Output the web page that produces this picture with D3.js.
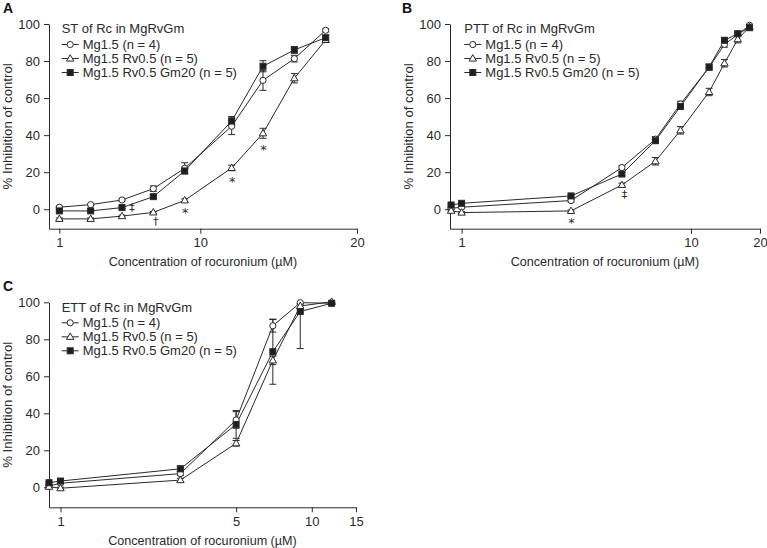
<!DOCTYPE html>
<html><head><meta charset="utf-8">
<script src="https://cdn.jsdelivr.net/npm/d3@7"></script>
<style>
body{margin:0;background:#fff;}
svg{display:block;font-family:"Liberation Sans",Arial,Helvetica,sans-serif;}
.ann{opacity:0.99;}
</style></head><body>
<svg id="chart" width="767" height="548"></svg>
<script>
// ---------- data ----------
const seriesNames = ["Mg1.5 (n = 4)", "Mg1.5 Rv0.5 (n = 5)", "Mg1.5 Rv0.5 Gm20 (n = 5)"];
const yTicks = [0, 20, 40, 60, 80, 100];
const xTicksA = [1, 10, 20];
const xTicksB = [1, 10, 20];
const xTicksC = [1, 5, 10, 15];
const xTitle = "Concentration of rocuronium (\u00b5M)";
const yTitle = "% Inhibition of control";

// Panel A: ST
const concA   = [1, 3, 5, 7, 9, 12, 14, 16, 18];
const aMg     = [1.1, 2.5, 5.0, 11.1, 22.1, 44.8, 69.6, 81.3, 96.6];
const aMgErr  = [0.5, 0.5, 0.5, 1.5, 3.0, 4.5, 5.4, 1.8, 0.8];
const aRv     = [-5.2, -5.2, -3.7, -1.7, 4.8, 22.3, 41.0, 70.7, 91.4];
const aRvErr  = [0.5, 0.5, 0.5, 0.5, 0.8, 1.5, 2.7, 2.5, 1.2];
const aGm     = [-0.9, -0.9, 0.9, 6.8, 20.7, 47.6, 77.2, 86.0, 92.6];
const aGmErr  = [0.5, 0.5, 0.5, 0.8, 1.5, 2.5, 3.0, 1.8, 1.2];

// Panel B: PTT
const concB   = [0.9, 1, 3, 5, 7, 9, 12, 14, 16, 18];
const bMg     = [0.5, 1.1, 4.7, 22.5, 37.8, 56.8, 76.6, 89.0, 94.3, 99.3];
const bMgErr  = [0.5, 0.5, 0.8, 1.0, 1.5, 1.5, 1.5, 1.5, 1.0, 0.8];
const bRv     = [-0.8, -1.8, -0.9, 13.1, 25.9, 42.6, 63.3, 78.8, 91.8, 98.5];
const bRvErr  = [0.5, 0.5, 0.5, 1.0, 2.0, 2.0, 2.0, 2.0, 2.0, 1.0];
const bGm     = [2.3, 3.2, 7.2, 19.0, 37.0, 55.5, 76.8, 91.2, 94.8, 98.0];
const bGmErr  = [0.5, 0.5, 0.8, 1.0, 1.5, 1.5, 1.5, 1.5, 1.0, 0.8];

// Panel C: ETT
const concC   = [0.9, 1, 3, 5, 7, 9, 12];
const cMg     = [0.7, 2.2, 7.4, 36.4, 87.3, 99.8, 99.5];
const cMgErr  = [0.5, 0.5, 1.0, 4.5, 3.4, 0.5, 0.5];
const cRv     = [0.3, -0.5, 3.9, 23.8, 68.6, 98.0, 100.3];
const cRvErr  = [0.5, 0.5, 1.0, 1.5, 2.3, 1.0, 0.5];
const cGm     = [2.5, 3.4, 10.0, 34.0, 73.3, 95.0, 99.5];
const cGmErr  = [0.5, 0.5, 1.5, 7.5, 17.6, 20.0, 0.5];

// significance marks: series index, point index, symbol, placement
const annA = [
  {s: 2, i: 2, t: "\u2021", pos: "right"},
  {s: 1, i: 3, t: "\u2020", pos: "below"},
  {s: 1, i: 4, t: "*", pos: "below"},
  {s: 1, i: 5, t: "*", pos: "below"},
  {s: 1, i: 6, t: "*", pos: "below"}
];
const annB = [
  {s: 1, i: 2, t: "*", pos: "below"},
  {s: 1, i: 3, t: "\u2021", pos: "below"}
];
const annC = [];

// ---------- drawing ----------
const svg = d3.select("#chart");
const ink = "#2a2a2a";
const FS = 13;

function marker(g, type, cx, cy) {
  if (type === 0) {
    g.append("circle").attr("cx", cx).attr("cy", cy).attr("r", 3.1)
      .attr("fill", "#fff").attr("stroke", ink).attr("stroke-width", 1);
  } else if (type === 1) {
    const s = 7.4, h = s * Math.sqrt(3) / 2;
    g.append("path")
      .attr("d", `M${cx},${cy - h * 0.6}L${cx + s / 2},${cy + h * 0.4}L${cx - s / 2},${cy + h * 0.4}Z`)
      .attr("fill", "#fff").attr("stroke", ink).attr("stroke-width", 1);
  } else {
    g.append("rect").attr("x", cx - 3).attr("y", cy - 3).attr("width", 6).attr("height", 6)
      .attr("fill", "#1e1e1e").attr("stroke", ink).attr("stroke-width", 1);
  }
}

function drawPanel(p) {
  const g = svg.append("g");
  const x = p.x, y = p.y;
  const [y0, y1] = y.range(); // bottom, top
  const [x0, x1] = x.range();
  const ylo = y.domain()[0], yhi = y.domain()[1];

  // axes
  const ax = g.append("g").attr("transform", `translate(0,${y0})`)
    .call(d3.axisBottom(x).tickValues(p.xTicks).tickFormat(d3.format("d"))
      .tickSize(5).tickSizeOuter(0).tickPadding(4));
  const ay = g.append("g").attr("transform", `translate(${x0},0)`)
    .call(d3.axisLeft(y).tickValues(yTicks).tickSize(5).tickSizeOuter(0).tickPadding(4));
  [ax, ay].forEach(a => {
    a.selectAll("path,line").attr("stroke", ink).attr("stroke-width", 1);
    a.selectAll("text").attr("fill", ink).style("font-size", FS + "px").attr("font-family", null);
  });

  // axis titles
  g.append("text").attr("x", (x0 + x1) / 2).attr("y", y0 + 37.5)
    .attr("text-anchor", "middle").attr("fill", ink).style("font-size", "12.6px").text(xTitle);
  g.append("text")
    .attr("transform", `translate(${x0 - 37},${(y0 + y1) / 2}) rotate(-90)`)
    .attr("text-anchor", "middle").attr("fill", ink).style("font-size", "13.2px").text(yTitle);

  // panel letter
  g.append("text").attr("x", p.letterX).attr("y", y1 - 11).attr("fill", "#111")
    .style("font-size", "14px").style("font-weight", "bold").text(p.letter);

  const series = p.series;
  const line = d3.line().x(d => x(d[0])).y(d => y(d[1]));
  // lines
  series.forEach(s => {
    g.append("path").datum(p.conc.map((c, i) => [c, s.v[i]]))
      .attr("d", line).attr("fill", "none").attr("stroke", ink).attr("stroke-width", 1);
  });
  // error bars
  series.forEach(s => {
    p.conc.forEach((c, i) => {
      const cx = x(c);
      const lo = s.v[i] - s.e[i], hi = s.v[i] + s.e[i];
      const loC = Math.max(lo, ylo), hiC = Math.min(hi, yhi);
      g.append("line").attr("x1", cx).attr("x2", cx).attr("y1", y(loC)).attr("y2", y(hiC))
        .attr("stroke", ink).attr("stroke-width", 1);
      [[lo, loC], [hi, hiC]].forEach(([v, vc]) => {
        if (v === vc) g.append("line").attr("x1", cx - 3.5).attr("x2", cx + 3.5)
          .attr("y1", y(v)).attr("y2", y(v)).attr("stroke", ink).attr("stroke-width", 1);
      });
    });
  });
  // markers
  series.forEach((s, k) => {
    p.conc.forEach((c, i) => marker(g, k, x(c), y(s.v[i])));
  });

  // annotations
  p.ann.forEach(a => {
    const s = series[a.s];
    const cx = x(p.conc[a.i]);
    let tx, cy;
    if (a.pos === "right") { tx = cx + 10; cy = y(s.v[a.i]); }
    else { tx = cx + (a.t === "*" ? 0.5 : 2.5); cy = y(s.v[a.i] - s.e[a.i]) + 7.5; }
    const base = a.t === "*" ? cy + 0.6 * FS : cy + 0.3 * FS;
    g.append("text").attr("class", "ann").attr("x", tx).attr("y", base).attr("text-anchor", "middle")
      .attr("fill", ink).style("fill", ink).style("font-family", "'DejaVu Sans', sans-serif")
      .style("font-size", (a.t === "*" ? FS : 11) + "px").text(a.t);
  });

  // legend
  const lx = p.legendX;
  g.append("text").attr("x", lx).attr("y", y1 + 9.2).attr("fill", ink)
    .style("font-size", FS + "px").text(p.title);
  seriesNames.forEach((nm, k) => {
    const ly = y1 + 20.5 + k * 14;
    g.append("line").attr("x1", lx).attr("x2", lx + 17).attr("y1", ly).attr("y2", ly)
      .attr("stroke", ink).attr("stroke-width", 1);
    marker(g, k, lx + 8.5, ly);
    g.append("text").attr("x", lx + 21).attr("y", ly).attr("dy", "0.36em").attr("fill", ink)
      .style("font-size", FS + "px").text(nm);
  });
}

drawPanel({
  letter: "A", letterX: 3, title: "ST of Rc in MgRvGm",
  x: d3.scaleLinear().domain([0.34, 20]).range([49, 357]),
  y: d3.scaleLinear().domain([-10.5, 100]).range([228.7, 24]),
  xTicks: xTicksA, conc: concA, legendX: 61.7, ann: annA,
  series: [{v: aMg, e: aMgErr}, {v: aRv, e: aRvErr}, {v: aGm, e: aGmErr}]
});
drawPanel({
  letter: "B", letterX: 402, title: "PTT of Rc in MgRvGm",
  x: d3.scaleLog().domain([0.89, 20]).range([450, 760]),
  y: d3.scaleLinear().domain([-10.5, 100]).range([228.7, 24]),
  xTicks: xTicksB, conc: concB, legendX: 464.3, ann: annB,
  series: [{v: bMg, e: bMgErr}, {v: bRv, e: bRvErr}, {v: bGm, e: bGmErr}]
});
drawPanel({
  letter: "C", letterX: 3, title: "ETT of Rc in MgRvGm",
  x: d3.scaleLog().domain([0.9, 15]).range([49, 356]),
  y: d3.scaleLinear().domain([-10.8, 100]).range([507.3, 302.3]),
  xTicks: xTicksC, conc: concC, legendX: 61.7, ann: annC,
  series: [{v: cMg, e: cMgErr}, {v: cRv, e: cRvErr}, {v: cGm, e: cGmErr}]
});
</script>
</body></html>
